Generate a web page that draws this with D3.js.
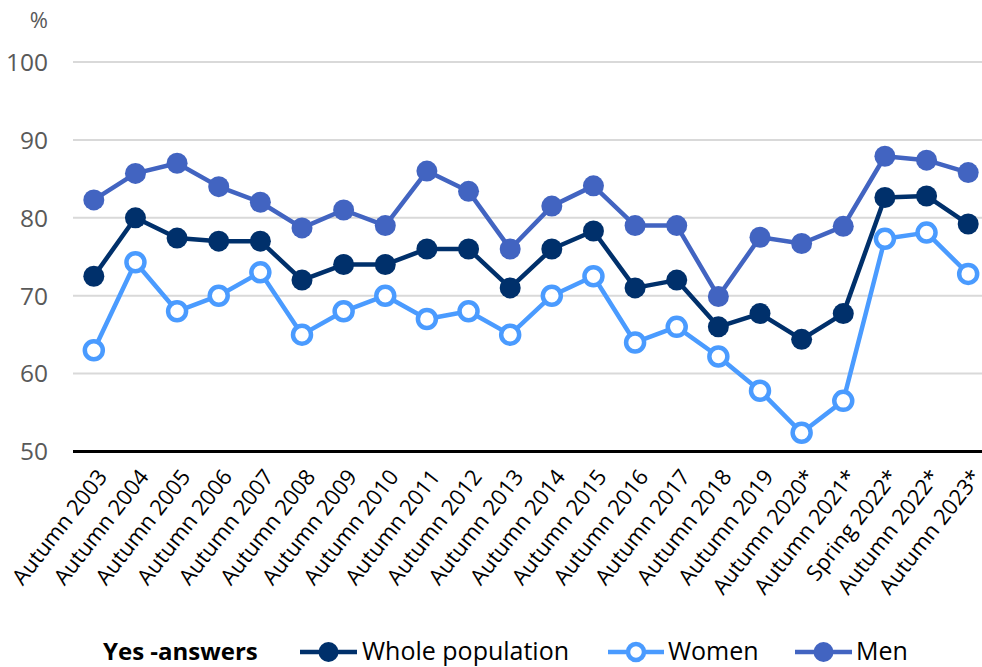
<!DOCTYPE html>
<html><head><meta charset="utf-8">
<script src="https://cdn.jsdelivr.net/npm/d3@7"></script>
<style>body{margin:0;background:#fff}svg{display:block}text{font-family:"Open Sans",sans-serif}</style>
</head><body><svg id="c" width="982" height="667"></svg>
<script>
const categories=["Autumn 2003","Autumn 2004","Autumn 2005","Autumn 2006","Autumn 2007","Autumn 2008","Autumn 2009","Autumn 2010","Autumn 2011","Autumn 2012","Autumn 2013","Autumn 2014","Autumn 2015","Autumn 2016","Autumn 2017","Autumn 2018","Autumn 2019","Autumn 2020*","Autumn 2021*","Spring 2022*","Autumn 2022*","Autumn 2023*"];
const whole=[72.5,80.0,77.4,77.0,77.0,72.0,74.0,74.0,76.0,76.0,71.0,76.0,78.3,71.0,72.0,66.0,67.7,64.4,67.7,82.6,82.8,79.2];
const women=[63.0,74.3,68.0,70.0,73.0,65.0,68.0,70.0,67.0,68.0,65.0,70.0,72.5,64.0,66.0,62.2,57.8,52.4,56.5,77.3,78.1,72.8];
const men=[82.3,85.7,87.0,84.0,82.0,78.7,81.0,79.0,86.0,83.4,76.0,81.5,84.1,79.0,79.0,69.9,77.5,76.7,78.9,87.9,87.4,85.8];
const yTicks=[50,60,70,80,90,100];
const series=[
 {name:"Whole population",values:whole,color:"#00306B",open:false},
 {name:"Women",values:women,color:"#4A9BFF",open:true},
 {name:"Men",values:men,color:"#4264C1",open:false}
];
const svg=d3.select("#c");
const x=d3.scaleBand().domain(categories).range([73,989]);
const y=d3.scaleLinear().domain([50,100]).range([451.5,62]);
svg.append("g").selectAll("line").data(yTicks.filter(d=>d>50)).join("line")
 .attr("x1",73).attr("x2",982).attr("y1",d=>y(d)).attr("y2",d=>y(d))
 .attr("stroke","#d9d9d9").attr("stroke-width",2);
svg.append("g").selectAll("text").data(yTicks).join("text")
 .attr("x",48).attr("y",d=>y(d)).attr("dy","0.36em").attr("text-anchor","end")
 .attr("font-size",24.5).attr("fill","#595959").text(d=>d);
svg.append("text").attr("x",48).attr("y",28).attr("text-anchor","end").attr("font-size",22).attr("fill","#595959").text("%");
svg.append("line").attr("x1",73).attr("x2",982).attr("y1",y(50)).attr("y2",y(50)).attr("stroke","#000").attr("stroke-width",3);
const cx=d=>x(d)+x.bandwidth()/2;
svg.append("g").selectAll("text").data(categories).join("text")
 .attr("transform",d=>`translate(${cx(d)+4},${469}) rotate(-52)`)
 .attr("text-anchor","end").attr("dy","0.6em").attr("font-size",22).attr("fill","#000").text(d=>d);
series.forEach(s=>{
 const line=d3.line().x((v,i)=>cx(categories[i])).y(v=>y(v));
 svg.append("path").datum(s.values).attr("d",line).attr("fill","none").attr("stroke",s.color).attr("stroke-width",4.5).attr("stroke-linejoin","round");
 svg.append("g").selectAll("circle").data(s.values).join("circle")
  .attr("cx",(v,i)=>cx(categories[i])).attr("cy",v=>y(v))
  .attr("r",s.open?9:10.5)
  .attr("fill",s.open?"#fff":s.color).attr("stroke",s.color).attr("stroke-width",s.open?4.5:0);
});
const lg=svg.append("g");
lg.append("text").attr("x",103).attr("y",660).attr("font-size",24).attr("font-weight","bold").attr("fill","#000").text("Yes -answers");
const legPos=[{x1:300,x2:357,t:362},{x1:608,x2:664,t:668},{x1:795,x2:852,t:856}];
series.forEach((s,i)=>{
 const p=legPos[i], ly=652;
 lg.append("line").attr("x1",p.x1).attr("x2",p.x2).attr("y1",ly).attr("y2",ly).attr("stroke",s.color).attr("stroke-width",4.5);
 lg.append("circle").attr("cx",(p.x1+p.x2)/2).attr("cy",ly).attr("r",s.open?8:10)
  .attr("fill",s.open?"#fff":s.color).attr("stroke",s.color).attr("stroke-width",s.open?4.5:0);
 lg.append("text").attr("x",p.t).attr("y",660).attr("font-size",25).attr("fill","#000").text(s.name);
});
</script></body></html>
